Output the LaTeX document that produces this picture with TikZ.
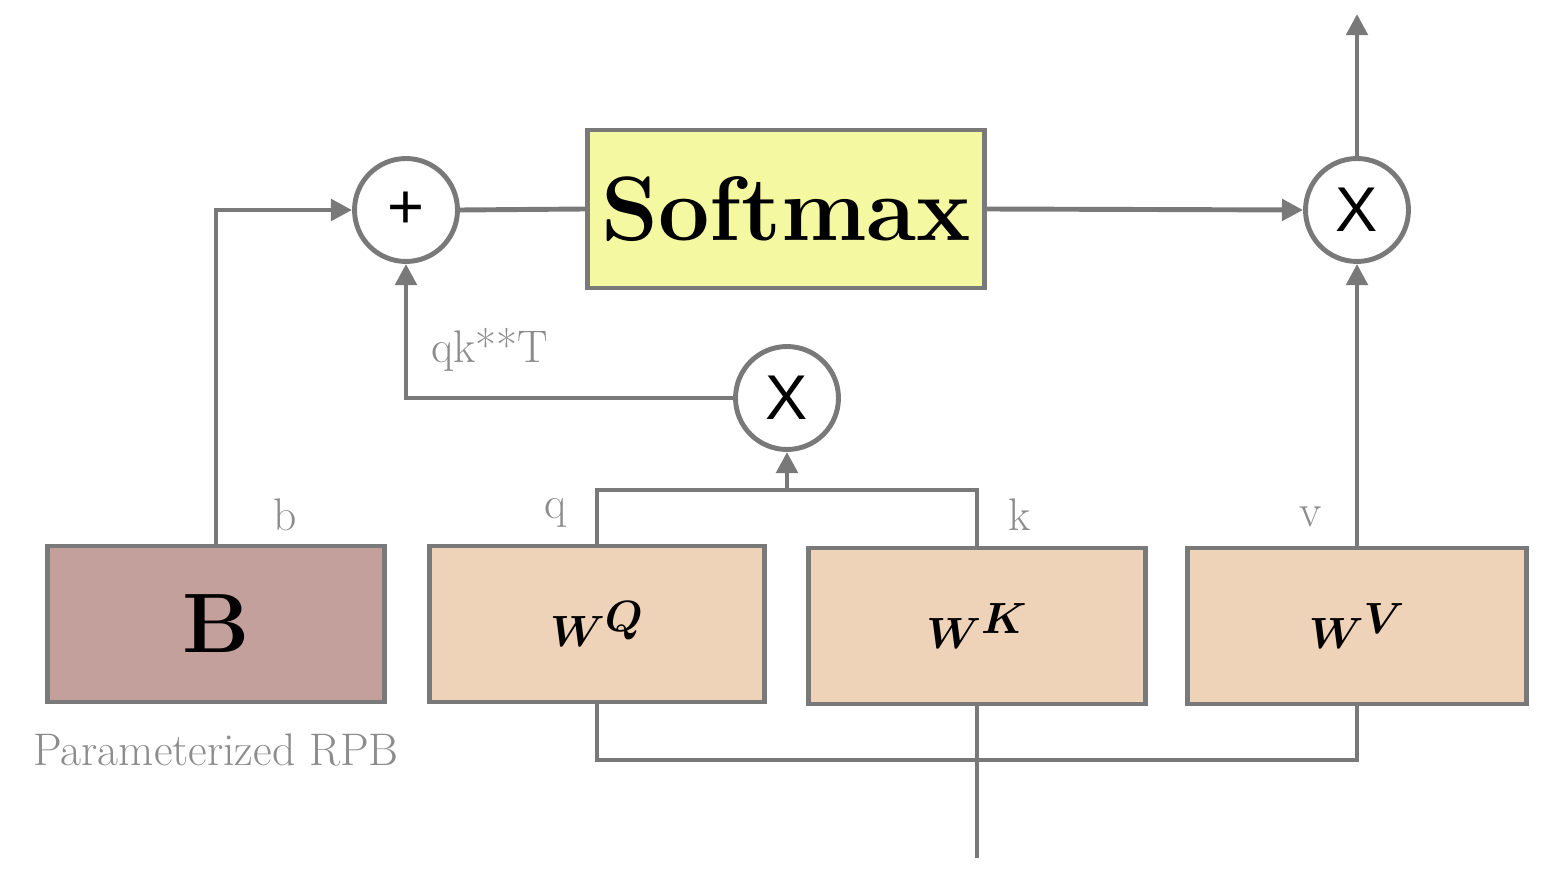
\documentclass[tikz,border=0pt]{standalone}
\usepackage{bm}
\usepackage{fontspec}
\newfontfamily\sansf{Liberation Sans}
\usetikzlibrary{arrows.meta}
\begin{document}
\begin{tikzpicture}[x=0.02cm,y=-0.02cm,
  ln/.style={draw=gray!95!black,line width=2.8pt},
  ar/.style={ln,-{Triangle[length=12pt,width=12pt]}},
  box/.style={draw=gray!95!black,line width=2.8pt,inner sep=0pt},
  circ/.style={circle,draw=gray!95!black,line width=2.8pt,fill=white,minimum size=2.06cm,inner sep=0pt,font=\sansf\fontsize{36}{40}\selectfont},
  wfont/.style={font=\fontsize{48}{50}\selectfont},
  lab/.style={text=gray!90,font=\fontsize{26}{30}\selectfont}]
\useasboundingbox (0,0) rectangle (1553,885);
\node[box,fill={rgb,255:red,196;green,160;blue,156},minimum width=6.74cm,minimum height=3.12cm,font=\bfseries\fontsize{48}{50}\selectfont] (B) at (216,624) {B};
\node[box,fill={rgb,255:red,239;green,211;blue,184},minimum width=6.7cm,minimum height=3.12cm,wfont] (WQ) at (597,624) {$\bm{W^{Q}}$};
\node[box,fill={rgb,255:red,239;green,211;blue,184},minimum width=6.74cm,minimum height=3.12cm,wfont] (WK) at (977,626) {$\bm{W^{K}}$};
\node[box,fill={rgb,255:red,239;green,211;blue,184},minimum width=6.78cm,minimum height=3.12cm,wfont] (WV) at (1357,626) {$\bm{W^{V}}$};
\node[box,fill={rgb,255:red,244;green,248;blue,160},minimum width=7.94cm,minimum height=3.16cm,font=\bfseries\fontsize{52}{56}\selectfont] (S) at (786,209) {Softmax};
\node[circ] (P) at (406,210) {+};
\node[circ] (XT) at (1357,210) {X};
\node[circ] (XM) at (787,398) {X};
\coordinate (top) at (1357,14);
\coordinate (bot) at (977,858);
\coordinate (qk) at (787,490);
\coordinate (bj) at (977,760);
\draw[ar] (B.north) |- (P.west);
\draw[ln] (P.east) -- (S.west);
\draw[ar] (S.east) -- (XT.west);
\draw[ar] (XT.north) -- (top);
\draw[ar] (WV.north) -- (XT.south);
\draw[ln] (WQ.north) |- (qk) -| (WK.north);
\draw[ar] (qk) -- (XM.south);
\draw[ar] (XM.west) -| (P.south);
\draw[ln] (bot) -- (WK.south);
\draw[ln] (WQ.south) |- (bj) -| (WV.south);
\node[lab] (lb) at (285,515) {b};
\node[lab] (lq) at (556,513) {q};
\node[lab] (lk) at (1020,515) {k};
\node[lab] (lv) at (1311,517) {v};
\node[lab] (lqk) at (490,350) {qk**T};
\node[lab] (lrpb) at (216,750) {Parameterized RPB};
\end{tikzpicture}
\end{document}
